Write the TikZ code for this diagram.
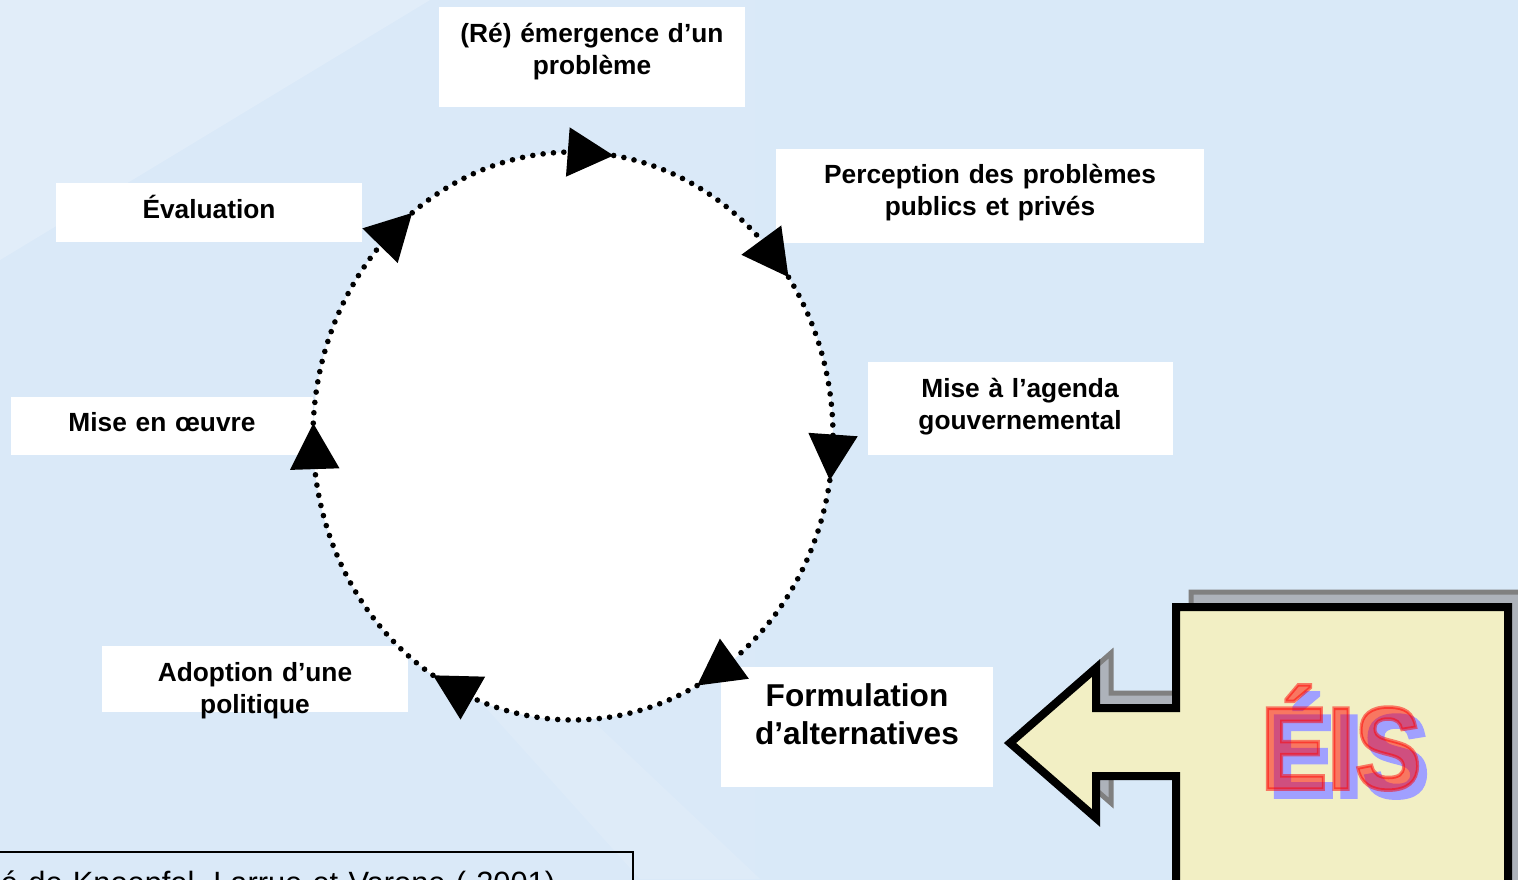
\documentclass[tikz,border=0pt]{standalone}
\usepackage{fontspec}
\setmainfont{Liberation Sans}
\newfontfamily\sigfont[FakeBold=3]{Liberation Sans Bold}
\usetikzlibrary{arrows.meta,bending,calc}

\definecolor{fondG}{HTML}{DAE9F8}
\definecolor{fondM}{HTML}{E6F2FC}
\definecolor{fondD}{HTML}{D9E9F8}
\definecolor{bulle}{HTML}{F2EFC4}
\definecolor{ombre}{HTML}{ADB2BA}
\definecolor{lilas}{HTML}{A0A0FF}

\tikzset{
  etape/.style={fill=white, inner sep=0pt, anchor=north, align=center,
    font=\bfseries\fontsize{13.15}{16}\selectfont},
  boucle/.style={line width=2.8pt, line cap=round, dash pattern=on 0pt off 5.2pt,
    -{Triangle[length=23pt,width=24pt]}},
  sigle/.style={font=\sigfont\fontsize{58.7}{60}\selectfont, xscale=0.85,
    anchor=base, inner sep=0pt},
  source/.style={draw, line width=1pt, anchor=north west, inner xsep=10pt,
    inner ysep=8.5pt, text width=306pt, align=left, text height=12pt,
    text depth=4pt, font=\fontsize{15.4}{19}\selectfont},
}

\begin{document}
\begin{tikzpicture}[x=0.5pt,y=-0.5pt]
 \useasboundingbox (0,0) rectangle (1518,879);
 % fond
 \fill[left color=fondG, middle color=fondM, right color=fondD] (0,0) rectangle (1518,879);
 \fill[white, opacity=.2] (0,0) -- (430,0) -- (0,260) -- cycle;
 \fill[white, opacity=.12] (470,690) -- (560,690) -- (760,879) -- (640,879) -- cycle;
 %
 \coordinate (ctr) at (573,436);
 \fill[white] (ctr) ellipse [x radius=260, y radius=284];
 %
 \node[etape, text width=153pt, text height=17.5pt, text depth=32.5pt] (emergence) at (592,7) {(Ré) émergence d’un\\problème};
 \node[etape, text width=214pt, text height=17pt, text depth=30pt] (perception) at (990,149) {Perception des problèmes\\publics et privés};
 \node[etape, text width=152.5pt, text height=17.5pt, text depth=29pt] (agenda) at (1020,362) {Mise à l’agenda\\gouvernemental};
 \node[etape, text width=136pt, text height=19.5pt, text depth=40.5pt, font=\bfseries\fontsize{15.8}{19}\selectfont] (formulation) at (857,667) {Formulation\\d’alternatives};
 \node[etape, text width=153pt, text height=17.5pt, text depth=15.5pt] (adoption) at (255,646) {Adoption d’une\\politique};
 \node[etape, text width=151pt, text height=17pt, text depth=12pt] (oeuvre) at (162,397) {Mise en œuvre};
 \node[etape, text width=153pt, text height=17.5pt, text depth=12pt] (evaluation) at (209,183) {Évaluation};
 %
 \foreach \a/\b in {-128.2/-81, -81/-34, -34/9, 9/61.5, 61.5/122.6, 122.6/182.6, 182.6/231.8}
  \draw[boucle] ($(ctr)+(\a:260 and 284)$) arc [start angle=\a, end angle=\b, x radius=260, y radius=284];
 %
 \node[source] (source) at (-20,851) {é de Knoepfel, Larrue et Varone ( 2001)};
 %
 % bulle ÉIS
 \draw[line width=2.5pt, draw=gray, fill=ombre, shift={(15,-15)}] (1010,743) -- (1096,668) -- (1096,708) -- (1176,708) -- (1176,607) -- (1508,607) -- (1508,905) -- (1176,905) -- (1176,776) -- (1096,776) -- (1096,818) -- cycle;
 \draw[line width=4pt, fill=bulle] (1010,743) -- (1096,668) -- (1096,708) -- (1176,708) -- (1176,607) -- (1508,607) -- (1508,905) -- (1176,905) -- (1176,776) -- (1096,776) -- (1096,818) -- cycle;
 \node[sigle, text=lilas] (eis-ombre) at (1349,797) {ÉIS};
 \node[sigle, text=red, text opacity=0.5] (eis) at (1341,789) {ÉIS};
\end{tikzpicture}
\end{document}
